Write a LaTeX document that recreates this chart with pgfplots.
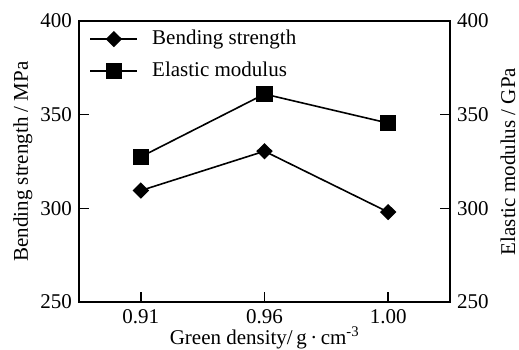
\documentclass[border=0pt]{standalone}
\usepackage{fontspec}
\setmainfont{Liberation Serif}
\usepackage{pgfplots}
\pgfplotsset{compat=1.18}
\begin{document}
\fontsize{21}{25}\selectfont
\begin{tikzpicture}
\pgfplotsset{
  common/.style={
    scale only axis, width=371pt, height=281pt,
    xmin=-0.5, xmax=2.5, ymin=250, ymax=400,
    ytick={250,300,350,400},
    tick align=inside,
    major tick length=10pt,
    every tick/.style={black, line width=1.6pt},
    axis line style={line width=1.8pt},
    /pgf/number format/assume math mode=true,
    tick label style={font=\fontsize{21}{25}\selectfont},
    label style={font=\fontsize{21}{25}\selectfont},
  }
}
\begin{axis}[common,
  xtick={0,1,2}, xticklabels={0.91,0.96,1.00},
  xtick pos=left, ytick pos=left,
  xlabel={Green density/\,g\,·\,cm\textsuperscript{-3}},
  ylabel={Bending strength / MPa},
  every axis x label/.style={at={(axis description cs:0.5,-0.128)}, anchor=center},
  every axis y label/.style={at={(axis description cs:-0.151,0.5)}, anchor=center, rotate=90},
  legend style={draw=none, fill=none, at={(axis description cs:0.028,0.975)}, anchor=north west,
    font=\fontsize{21}{25}\selectfont, row sep=10pt, column sep=12pt, inner sep=0pt,
    nodes={inner sep=2pt}},
  legend cell align=left,
  legend image code/.code={\draw[mark repeat=2,mark phase=2,#1] plot coordinates {(0pt,0pt) (23.5pt,0pt) (47pt,0pt)};},
]
\addplot[black, line width=1.6pt, mark=diamond*, mark size=7pt, mark options={xscale=1.35, solid}]
  coordinates {(0,309.5) (1,330.5) (2,298)};
\addlegendentry{Bending strength}
\addplot[black, line width=1.6pt, mark=square*, mark size=7.5pt, mark options={solid}]
  coordinates {(0,327.5) (1,361) (2,345.5)};
\addlegendentry{Elastic modulus}
\end{axis}
\begin{axis}[common,
  axis y line*=right, axis x line=none,
  ytick pos=right,
  ylabel={Elastic modulus / GPa},
  every axis y label/.style={at={(axis description cs:1.156,0.5)}, anchor=center, rotate=90},
]
\end{axis}
\pgfresetboundingbox
\path[use as bounding box] (-79pt,-47pt) rectangle (440pt,302pt);
\end{tikzpicture}
\end{document}
